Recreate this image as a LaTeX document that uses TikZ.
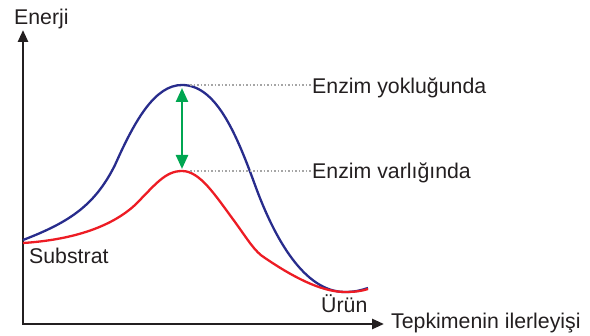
\documentclass[tikz,border=0pt]{standalone}
\usepackage{fontspec}
\setmainfont{Liberation Sans}
\usetikzlibrary{arrows.meta}

\definecolor{inkgray}{RGB}{35,31,32}
\definecolor{noenzblue}{RGB}{40,44,140}
\definecolor{enzred}{RGB}{237,28,36}
\definecolor{diffgreen}{RGB}{0,166,81}

\tikzset{
  axisline/.style={line width=2.6pt, draw=inkgray, {Triangle[length=12pt,width=10pt]}-{Triangle[length=12pt,width=10pt]}},
  curve/.style={line width=2.3pt},
  guide/.style={line width=1.1pt, draw=gray!70, dash pattern=on 1.6pt off 1.9pt},
  lbl/.style={inner sep=0pt, anchor=base west, text=inkgray}
}

\begin{document}
\begin{tikzpicture}[x=1pt, y=-1pt, font=\fontsize{21.3}{25}\selectfont]
    \useasboundingbox (0,0) rectangle (590,336);

    % axes
    \coordinate (O) at (23,324);
    \coordinate (Ytop) at (23,30);
    \coordinate (Xend) at (384,324);
    \draw[axisline] (Ytop) -- (O) -- (Xend);

    % the two energy curves
    \draw[curve, noenzblue] (23,240) .. controls (70,222) and (95,205) .. (115,165)
      .. controls (135,120) and (155,85) .. (182,85)
      .. controls (215,85) and (235,130) .. (255,185)
      .. controls (275,240) and (305,292) .. (345,292)
      .. controls (355,292) and (362,290) .. (368,288);
    \draw[curve, enzred] (23,243) .. controls (70,240) and (110,228) .. (135,205)
      .. controls (155,185) and (165,171) .. (182,171)
      .. controls (200,171) and (215,195) .. (235,222)
      .. controls (248,240) and (255,252) .. (265,258)
      .. controls (290,275) and (320,292) .. (345,292)
      .. controls (355,292) and (362,291) .. (368,289);

    \coordinate (bluepeak) at (190,85);
    \coordinate (redpeak) at (190,171);
    \coordinate (arrtop) at (182,88);
    \coordinate (arrbot) at (182,169);

    % labels
    \node[lbl] (energy) at (14,25) {Enerji};
    \node[lbl] (progress) at (391,329) {Tepkimenin ilerleyişi};
    \node[lbl] (substrat) at (29,264) {Substrat};
    \node[lbl] (urun) at (321,313) {Ürün};
    \node[lbl] (noenz) at (312,94) {Enzim yokluğunda};
    \node[lbl] (withenz) at (312,178.5) {Enzim varlığında};

    \draw[guide] (bluepeak) -- (noenz.west |- bluepeak);
    \draw[guide] (redpeak) -- (withenz.west |- redpeak);

    \draw[line width=2.4pt, diffgreen, {Triangle[length=14pt,width=12pt]}-{Triangle[length=14pt,width=12pt]}] (arrtop) -- (arrbot);
\end{tikzpicture}
\end{document}
